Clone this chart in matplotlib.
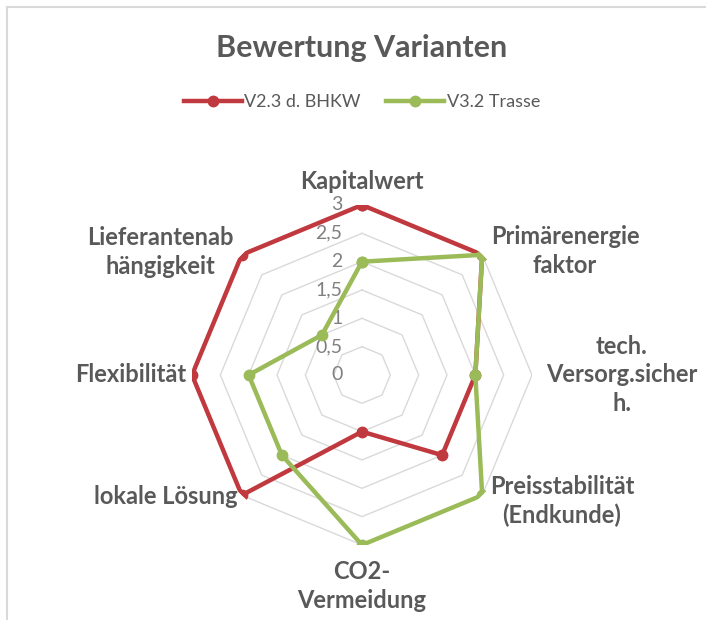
import numpy as np
import matplotlib
matplotlib.use("Agg")
import matplotlib.pyplot as plt
from matplotlib.lines import Line2D

plt.rcParams['font.family'] = ['Lato', 'DejaVu Sans']

categories = ["Kapitalwert", "Primärenergie\nfaktor", "tech.\nVersorg.sicher\nh.",
              "Preisstabilität\n(Endkunde)", "CO2-\nVermeidung", "lokale Lösung",
              "Flexibilität", "Lieferantenab\nhängigkeit"]
series_names = ["V2.3 d. BHKW", "V3.2 Trasse"]
v23 = [3, 3, 2, 2, 1, 3, 3, 3]
v32 = [2, 3, 2, 3, 3, 2, 2, 1]
ticks = [0, 0.5, 1, 1.5, 2, 2.5, 3]
tick_labels = ["0", "0,5", "1", "1,5", "2", "2,5", "3"]
colors = ["#C0393F", "#9BBB59"]

W, H = 706, 620
fig = plt.figure(figsize=(W / 100, H / 100), dpi=100)
cx, cy, R = 362, 375, 170
ax = fig.add_axes([(cx - R) / W, (H - cy - R) / H, 2 * R / W, 2 * R / H], projection='polar')
ax.set_theta_zero_location('N')
ax.set_theta_direction(-1)
ax.set_ylim(0, 3)
ax.grid(False)
ax.spines['polar'].set_visible(False)
ax.set_xticks([])
ax.set_yticks([])
ax.patch.set_alpha(0)

n = len(categories)
ang = np.arange(n) * 2 * np.pi / n
ang_c = np.append(ang, ang[0])

# polygon gridlines
for t in ticks[1:]:
    ax.plot(ang_c, [t] * (n + 1), color="#d9d9d9", lw=1.0, zorder=1)

for vals, c, name in zip([v23, v32], colors, series_names):
    vv = np.append(vals, vals[0])
    ax.plot(ang_c, vv, color=c, lw=3.2, marker='o', ms=7.5, zorder=3, label=name)

# tick labels along vertical axis
for t, lab in zip(ticks, tick_labels):
    ax.annotate(lab, xy=(0, t), xytext=(-14, 0), textcoords='offset points',
                ha='right', va='center', fontsize=14, color="#808080", zorder=2)

# category labels
label_pos = [
    (362, 182, 'center'), (565, 251, 'center'), (622, 375, 'center'),
    (562, 501, 'center'), (362, 586, 'center'), (238, 497, 'right'),
    (186, 375, 'right'), (160, 252, 'center'),
]
for cat, (x, y, ha) in zip(categories, label_pos):
    fig.text(x / W, 1 - y / H, cat, ha=ha, va='center', fontsize=17,
             fontweight='bold', color="#595959", linespacing=1.3, multialignment='center')

fig.text(cx / W, 1 - 48 / H, "Bewertung Varianten", ha='center', va='center',
         fontsize=22, fontweight='bold', color="#595959")

handles = [Line2D([0], [0], color=c, lw=3.2, marker='o', ms=7.5) for c in colors]
leg = fig.legend(handles, series_names, loc='center', bbox_to_anchor=(cx / W, 1 - 102 / H),
                 ncol=2, frameon=False, fontsize=13, handlelength=3.2, columnspacing=1.4,
                 handletextpad=0.15)
for t in leg.get_texts():
    t.set_color("#595959")

# chart frame (top and left edge)
fig.add_artist(Line2D([7 / W, 1], [1 - 7 / H, 1 - 7 / H], color="#d9d9d9", lw=1.5,
                      transform=fig.transFigure))
fig.add_artist(Line2D([7 / W, 7 / W], [0, 1 - 7 / H], color="#d9d9d9", lw=1.5,
                      transform=fig.transFigure))

fig.savefig("out.png", dpi=100, facecolor="white")
